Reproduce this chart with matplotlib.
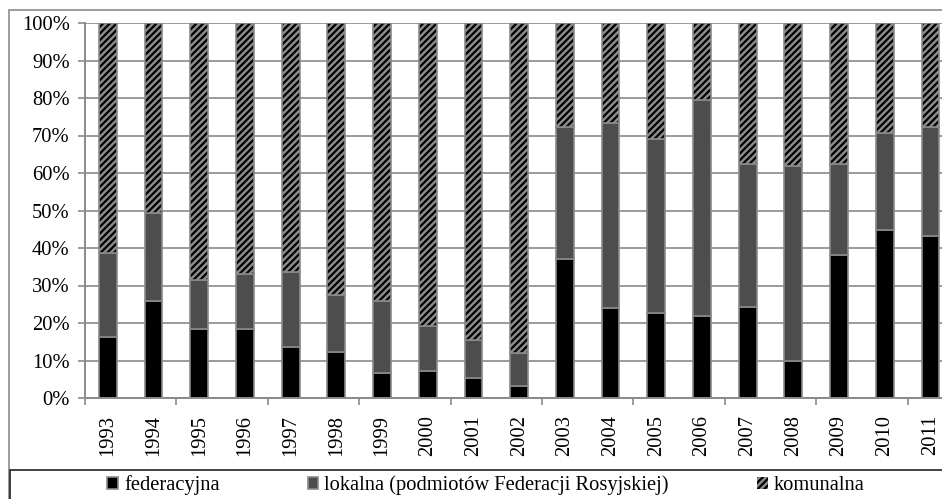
import matplotlib
matplotlib.use("Agg")
import matplotlib.pyplot as plt
from matplotlib.patches import Rectangle
import numpy as np

plt.rcParams.update({
    "font.family": "Liberation Serif", "font.size": 14.8,
    "hatch.linewidth": 1.6,
})

# --- data (shares in %) ---
years = [str(y) for y in range(1993, 2012)]
federacyjna = [16.4, 25.9, 18.4, 18.5, 13.6, 12.3, 6.6, 7.3, 5.3, 3.3,
               37.0, 23.9, 22.8, 21.9, 24.2, 9.9, 38.2, 44.8, 43.2]
lokalna_cum = [38.7, 49.3, 31.5, 33.0, 33.6, 27.4, 26.0, 19.3, 15.5, 12.1,
               72.3, 73.3, 69.0, 79.5, 62.3, 61.9, 62.3, 70.8, 72.2]
lokalna = [c - f for c, f in zip(lokalna_cum, federacyjna)]
komunalna = [100 - c for c in lokalna_cum]
labels = ["federacyjna", "lokalna (podmiotów Federacji Rosyjskiej)", "komunalna"]

W, H = 942, 499
fig = plt.figure(figsize=(W / 100, H / 100), dpi=100)

# outer chart frame and legend box (Excel style, right side cut off)
fig.patches.append(Rectangle((9 / W, -0.1), 1.2, (H - 10) / H + 0.1,
                             transform=fig.transFigure, fill=False,
                             edgecolor="#8c8c8c", linewidth=1.2))
fig.patches.append(Rectangle((10 / W, -0.1), 1.2, (H - 470) / H + 0.1,
                             transform=fig.transFigure, fill=False,
                             edgecolor="#222222", linewidth=1.2))

x0, x1, y0, y1 = 85, 85 + 19 * 45.7, 398, 23
ax = fig.add_axes([x0 / W, (H - y0) / H, (x1 - x0) / W, (y0 - y1) / H])

x = np.arange(len(years))
bw = 0.39
edge = "#8a8a8a"
ax.bar(x, federacyjna, bw, color="black", edgecolor=edge, linewidth=1.2,
       label=labels[0], zorder=3)
ax.bar(x, lokalna, bw, bottom=federacyjna, color="#4d4d4d", edgecolor=edge,
       linewidth=1.2, label=labels[1], zorder=3)
# hatch takes the edge colour, so draw black hatch first, gray outline on top
ax.bar(x, komunalna, bw, bottom=lokalna_cum, color="#8c8c8c", edgecolor="black",
       linewidth=0, hatch="/////", label=labels[2], zorder=3)
ax.bar(x, komunalna, bw, bottom=lokalna_cum, fill=False, edgecolor=edge,
       linewidth=1.2, zorder=3.5)

ax.set_xlim(-0.5, len(years) - 0.5)
ax.set_ylim(0, 100)
ax.set_yticks(np.arange(0, 101, 10))
ax.set_yticklabels([f"{v}%" for v in range(0, 101, 10)])
ax.set_xticks(x)
ax.set_xticklabels(years, rotation=90)
ax.set_xticks(np.arange(-0.5, len(years), 2), minor=True)
ax.tick_params(axis="x", which="major", length=0, pad=12)
ax.tick_params(axis="x", which="minor", length=5, color=edge, width=1.2)
ax.tick_params(axis="y", length=5, color=edge, width=1.2, pad=6)

ax.grid(axis="y", color="#8a8a8a", linewidth=1.2, zorder=0)
ax.set_axisbelow(True)
for s in ("top", "right"):
    ax.spines[s].set_visible(False)
for s in ("left", "bottom"):
    ax.spines[s].set_color(edge)
    ax.spines[s].set_linewidth(1.4)
    ax.spines[s].set_zorder(4)

handles, lbls = ax.get_legend_handles_labels()
fig.legend(handles, lbls, loc="center", ncol=3,
           bbox_to_anchor=(486 / W, (H - 485) / H), frameon=False,
           handlelength=0.5, handleheight=0.5, handletextpad=0.3,
           columnspacing=4.3, borderpad=0)

fig.savefig("out.png", dpi=100)
